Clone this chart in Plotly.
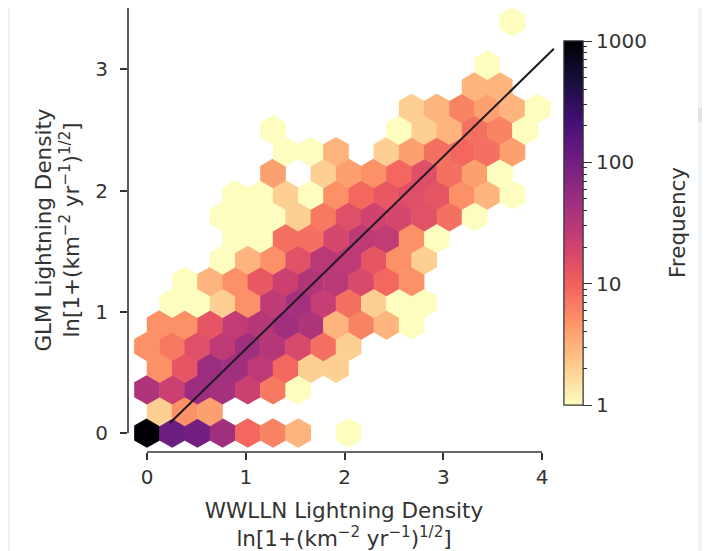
import numpy as np
import plotly.graph_objects as go

# ---------------- data (hexbin cells: lattice row, lattice column, count) ----------
HEX_DX = 0.2552   # hexbin cell width (x units)
HEX_DY = 0.357    # hexbin lattice period in y (rows alternate every HEX_DY/2)

r0_cols = [0, 1, 2, 3, 4, 5, 6, 8];                r0_counts = [1500, 110, 100, 45, 9, 6, 3, 1]
r1_cols = [0, 1, 2];                               r1_counts = [2, 5, 4]
r2_cols = [0, 1, 2, 3, 4, 5, 6];                   r2_counts = [35, 22, 50, 42, 22, 7, 1]
r3_cols = [0, 1, 2, 3, 4, 5, 6, 7];                r3_counts = [5, 13, 50, 45, 28, 9, 2, 2]
r4_cols = [0, 1, 2, 3, 4, 5, 6, 7, 8];             r4_counts = [5, 7, 15, 28, 45, 32, 17, 8, 2]
r5_cols = [0, 1, 2, 3, 4, 5, 6, 7, 8, 9, 10];      r5_counts = [5, 5, 13, 26, 32, 45, 35, 3, 6, 3, 1]
r6_cols = [1, 2, 3, 4, 5, 6, 7, 8, 9, 10, 11];     r6_counts = [1, 1, 2, 5, 27, 42, 24, 8, 2, 1, 1]
r7_cols = [1, 2, 3, 4, 5, 6, 7, 8, 9, 10];         r7_counts = [1, 3, 5, 12, 22, 34, 30, 17, 9, 5]
r8_cols = [3, 4, 5, 6, 7, 8, 9, 10, 11];           r8_counts = [1, 3, 5, 14, 30, 28, 13, 5, 2]
r9_cols = [3, 4, 5, 6, 7, 8, 9, 10, 11];           r9_counts = [1, 1, 8, 8, 18, 28, 26, 5, 1]
r10_cols = [3, 4, 5, 6, 7, 8, 9, 10, 11, 12, 13];  r10_counts = [1, 1, 1, 2, 7, 15, 20, 18, 14, 8, 1]
r11_cols = [3, 4, 5, 6, 7, 8, 9, 10, 11, 12, 13, 14]; r11_counts = [1, 1, 2, 1, 5, 9, 12, 15, 13, 5, 3, 1]
r12_cols = [5, 7, 8, 9, 10, 11, 12, 13, 14];       r12_counts = [4, 2, 4, 5, 9, 15, 8, 4, 1]
r13_cols = [5, 6, 7, 9, 10, 11, 12, 13, 14];       r13_counts = [1, 1, 3, 2, 4, 8, 9, 8, 4]
r14_cols = [5, 10, 11, 12, 13, 14, 15];            r14_counts = [1, 1, 2, 3, 8, 6, 1]
r15_cols = [10, 11, 12, 13, 14, 15];               r15_counts = [2, 3, 6, 4, 3, 1]
r16_cols = [13, 14];                               r16_counts = [3, 3]
r17_cols = [13];                                   r17_counts = [1]
r19_cols = [14];                                   r19_counts = [1]

row_table = [
    (0, r0_cols, r0_counts), (1, r1_cols, r1_counts), (2, r2_cols, r2_counts),
    (3, r3_cols, r3_counts), (4, r4_cols, r4_counts), (5, r5_cols, r5_counts),
    (6, r6_cols, r6_counts), (7, r7_cols, r7_counts), (8, r8_cols, r8_counts),
    (9, r9_cols, r9_counts), (10, r10_cols, r10_counts), (11, r11_cols, r11_counts),
    (12, r12_cols, r12_counts), (13, r13_cols, r13_counts), (14, r14_cols, r14_counts),
    (15, r15_cols, r15_counts), (16, r16_cols, r16_counts), (17, r17_cols, r17_counts),
    (19, r19_cols, r19_counts),
]

# regression line end points
fit_x = [0.23, 4.12]
fit_y = [0.08, 3.17]

x_ticks = [0, 1, 2, 3, 4]
y_ticks = [0, 1, 2, 3]
cbar_ticks = [1, 10, 100, 1000]

# ---------------- build hex centres from lattice indices ----------------
hx, hy, hc = [], [], []
for r, cols, counts in row_table:
    for c, n in zip(cols, counts):
        hx.append((c + 0.5 * (r % 2)) * HEX_DX)
        hy.append(r * HEX_DY / 2)
        hc.append(np.log10(n))

FONT = "DejaVu Sans"
TXT = "#333333"
FS = 20      # tick labels
FT = 21.5    # axis titles

fig = go.Figure()
fig.add_trace(go.Scatter(
    x=hx, y=hy, mode="markers",
    marker=dict(symbol="hexagon", size=29.6, color=hc, coloraxis="coloraxis",
                line=dict(width=0)),
    hoverinfo="skip", showlegend=False))

# invisible trace only to carry the minor-tick colour bar
minor_vals = [np.log10(m * 10 ** k) for k in range(3) for m in range(2, 10)]
fig.add_trace(go.Scatter(
    x=[hx[0]], y=[hy[0]], mode="markers",
    marker=dict(size=1, opacity=0, color=[0], coloraxis="coloraxis2"),
    hoverinfo="skip", showlegend=False))

fig.add_trace(go.Scatter(
    x=fit_x, y=fit_y, mode="lines",
    line=dict(color="#1e1a22", width=2), hoverinfo="skip", showlegend=False))

# page has an 8px body margin: work in page pixels and subtract it
OFF = 8
W, H = 710 - OFF, 551 - OFF
PL, PR, PT, PB = 128, 560, 8, 452          # plot area in page pixels
L, T = PL - OFF, PT - OFF
R, B = W - (PR - OFF), H - (PB - OFF)
pw, ph = PR - PL, PB - PT

def px_x(page_x):   # page pixel -> paper x
    return (page_x - PL) / pw

def px_y(page_y):   # page pixel -> paper y
    return (PB - page_y) / ph

x_px_per_unit, x0_page = 98.75, 147.0
y_px_per_unit, y0_page = 121.2, 433.0
xr = [(PL - x0_page) / x_px_per_unit, (PR - x0_page) / x_px_per_unit]
yr = [(y0_page - PB) / y_px_per_unit, (y0_page - PT) / y_px_per_unit]

cb_common = dict(
    thicknessmode="pixels", thickness=19, lenmode="pixels", len=364,
    x=px_x(564), xanchor="left", xpad=0,
    y=px_y(223), yanchor="middle", ypad=0,
    outlinewidth=1, outlinecolor=TXT, tickcolor=TXT, tickwidth=1.2,
)

fig.update_layout(
    width=W, height=H,
    margin=dict(l=L, r=R, t=T, b=B, autoexpand=False),
    paper_bgcolor="white", plot_bgcolor="white",
    font=dict(family=FONT, size=FS, color=TXT),
    coloraxis=dict(
        colorscale="magma_r", cmin=0, cmax=3,
        colorbar=dict(**cb_common, ticks="outside", ticklen=9,
                      tickvals=[np.log10(v) for v in cbar_ticks],
                      ticktext=[str(v) for v in cbar_ticks],
                      tickfont=dict(size=FS, color=TXT)),
    ),
    coloraxis2=dict(
        colorscale="magma_r", cmin=0, cmax=3,
        colorbar=dict(**cb_common, ticks="outside", ticklen=4,
                      tickvals=minor_vals, showticklabels=False),
    ),
    xaxis=dict(range=xr, tickvals=x_ticks, ticks="outside", ticklen=7,
               tickwidth=1.5, tickcolor=TXT, showgrid=False, zeroline=False,
               showline=False, tickfont=dict(size=FS, color=TXT),
               title=dict(text="WWLLN Lightning Density<br>ln[1+(km<sup>−2</sup> yr<sup>−1</sup>)<sup>1/2</sup>]",
                          standoff=15, font=dict(size=FT, color=TXT))),
    yaxis=dict(range=yr, tickvals=y_ticks, ticks="outside", ticklen=7,
               tickwidth=1.5, tickcolor=TXT, showgrid=False, zeroline=False,
               showline=False, tickfont=dict(size=FS, color=TXT),
               ticklabelstandoff=8,
               title=dict(text="GLM Lightning Density<br>ln[1+(km<sup>−2</sup> yr<sup>−1</sup>)<sup>1/2</sup>]",
                          standoff=9, font=dict(size=FT, color=TXT))),
    annotations=[
        dict(text="Frequency", xref="paper", yref="paper", x=px_x(677), y=px_y(223),
             xanchor="center", yanchor="middle", textangle=-90, showarrow=False,
             font=dict(size=FT, color=TXT)),
    ],
    shapes=[
        # axis spines (offset, trimmed like the original)
        dict(type="line", xref="x", yref="paper", x0=x_ticks[0], x1=x_ticks[-1], y0=0, y1=0,
             line=dict(color=TXT, width=1.6)),
        dict(type="line", xref="paper", yref="y", x0=0, x1=0, y0=y_ticks[0], y1=yr[1],
             line=dict(color=TXT, width=1.6)),
        # light-blue page edges seen in the screenshot
        dict(type="rect", xref="paper", yref="paper", x0=px_x(OFF), x1=px_x(10),
             y0=px_y(551), y1=px_y(OFF), fillcolor="#eef4fa", line=dict(width=0),
             layer="below"),
        dict(type="rect", xref="paper", yref="paper", x0=px_x(698), x1=px_x(710),
             y0=px_y(551), y1=px_y(OFF), fillcolor="#eef4fa", line=dict(width=0),
             layer="below"),
        dict(type="rect", xref="paper", yref="paper", x0=px_x(698), x1=px_x(710),
             y0=px_y(122), y1=px_y(108), fillcolor="#dfe4e8", line=dict(width=0),
             layer="below"),
    ],
)

fig.write_html("out.html")
